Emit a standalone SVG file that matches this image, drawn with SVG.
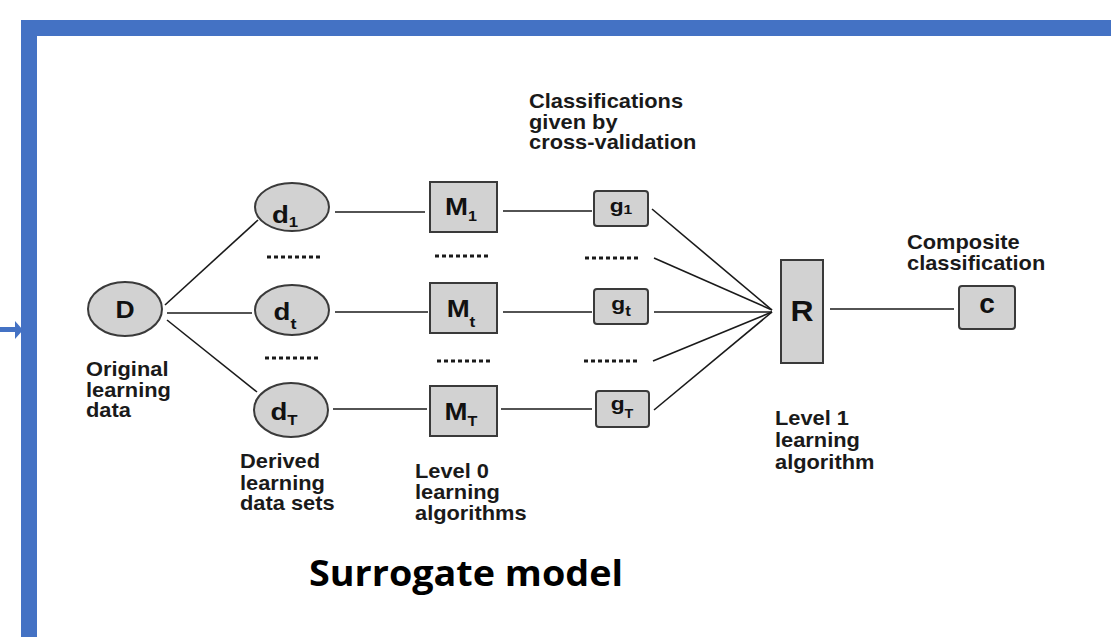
<svg xmlns="http://www.w3.org/2000/svg" width="1111" height="637" viewBox="0 0 1111 637">
<defs>
<style>
.frame{fill:#4472C4}
.node{fill:#d2d2d2;stroke:#3a3a3a;stroke-width:2}
.conn line{stroke:#1a1a1a;stroke-width:1.6}
.dots line{stroke:#1a1a1a;stroke-width:3;stroke-dasharray:4 3}
.lbl{font-family:"Liberation Sans",Arial,sans-serif;font-weight:bold;font-size:19.5px;fill:#1a1a1a}
.nl{font-family:"Liberation Sans",Arial,sans-serif;font-weight:bold;fill:#111;text-anchor:middle}
.title{font-family:"Open Sans","Noto Sans",sans-serif;font-weight:bold;font-size:36px;fill:#000}
</style>
</defs>
<rect width="1111" height="637" fill="#ffffff"/>
<path class="frame" d="M21,20 H1111 V36 H37 V637 H21 Z"/>
<g id="input-arrow">
<line x1="0" y1="329.5" x2="17" y2="329.5" stroke="#4472C4" stroke-width="5"/>
<polygon points="15,321 23,330 15,339" fill="#4472C4"/>
</g>
<g class="conn" id="connectors">
<line x1="165" y1="305" x2="258" y2="220"/>
<line x1="167" y1="313" x2="252" y2="313"/>
<line x1="167" y1="320" x2="257" y2="392"/>
<line x1="335" y1="212" x2="425" y2="212"/>
<line x1="335" y1="312" x2="428" y2="312"/>
<line x1="333" y1="409" x2="427" y2="409"/>
<line x1="503" y1="211" x2="592" y2="211"/>
<line x1="503" y1="312" x2="592" y2="312"/>
<line x1="501" y1="409" x2="592" y2="409"/>
<line x1="652" y1="209" x2="772" y2="310"/>
<line x1="654" y1="258" x2="772" y2="310"/>
<line x1="654" y1="312" x2="772" y2="312"/>
<line x1="653" y1="361" x2="772" y2="312"/>
<line x1="654" y1="410" x2="772" y2="312"/>
<line x1="830" y1="309" x2="954" y2="309"/>
</g>
<g class="dots" id="ellipsis">
<line x1="267" y1="257" x2="323" y2="257"/>
<line x1="265" y1="358" x2="321" y2="358"/>
<line x1="435" y1="256" x2="491" y2="256"/>
<line x1="437" y1="361" x2="493" y2="361"/>
<line x1="585" y1="258" x2="641" y2="258"/>
<line x1="584" y1="361" x2="640" y2="361"/>
</g>
<g id="node-D">
<ellipse class="node" cx="125" cy="309" rx="37" ry="27"/>
<text class="nl" transform="translate(125 318) scale(1.15 1)" font-size="23">D</text>
</g>
<g id="node-d1">
<ellipse class="node" cx="292" cy="207" rx="37" ry="24"/>
<text class="nl" transform="translate(285 223) scale(1.2 1)" font-size="23">d<tspan font-size="14" dy="4">1</tspan></text>
</g>
<g id="node-dt">
<ellipse class="node" cx="292" cy="310" rx="37" ry="25"/>
<text class="nl" transform="translate(285 320) scale(1.2 1)" font-size="23">d<tspan font-size="15" dy="9">t</tspan></text>
</g>
<g id="node-dT">
<ellipse class="node" cx="291" cy="410" rx="37" ry="27"/>
<text class="nl" transform="translate(284 420) scale(1.2 1)" font-size="23">d<tspan font-size="14" dy="5">T</tspan></text>
</g>
<g id="node-M1">
<rect class="node" x="430" y="182" width="67" height="50"/>
<text class="nl" transform="translate(461 215) scale(1.15 1)" font-size="24">M<tspan font-size="14" dy="6">1</tspan></text>
</g>
<g id="node-Mt">
<rect class="node" x="430" y="283" width="67" height="50"/>
<text class="nl" transform="translate(461 317) scale(1.15 1)" font-size="24">M<tspan font-size="15" dy="10">t</tspan></text>
</g>
<g id="node-MT">
<rect class="node" x="430" y="386" width="67" height="50"/>
<text class="nl" transform="translate(461 420) scale(1.15 1)" font-size="24">M<tspan font-size="14" dy="6">T</tspan></text>
</g>
<g id="node-g1">
<rect class="node" x="594" y="191" width="54" height="35" rx="3"/>
<text class="nl" transform="translate(621 212) scale(1.2 1)" font-size="19">g<tspan font-size="13" dy="2">1</tspan></text>
</g>
<g id="node-gt">
<rect class="node" x="594" y="289" width="54" height="35" rx="3"/>
<text class="nl" transform="translate(621 310) scale(1.2 1)" font-size="19">g<tspan font-size="14" dy="6">t</tspan></text>
</g>
<g id="node-gT">
<rect class="node" x="596" y="391" width="53" height="36" rx="3"/>
<text class="nl" transform="translate(622 410) scale(1.2 1)" font-size="19">g<tspan font-size="12" dy="8">T</tspan></text>
</g>
<g id="node-R">
<rect class="node" x="781" y="260" width="42" height="103"/>
<text class="nl" transform="translate(802 321) scale(1.1 1)" font-size="29">R</text>
</g>
<g id="node-c">
<rect class="node" x="959" y="286" width="56" height="43" rx="3"/>
<text class="nl" x="987" y="313" font-size="28">c</text>
</g>
<g id="labels">
<text class="lbl" transform="translate(529 108) scale(1.12 1)">Classifications</text>
<text class="lbl" transform="translate(529 129) scale(1.12 1)">given by</text>
<text class="lbl" transform="translate(529 149) scale(1.12 1)">cross-validation</text>
<text class="lbl" transform="translate(86 376) scale(1.12 1)">Original</text>
<text class="lbl" transform="translate(86 397) scale(1.12 1)">learning</text>
<text class="lbl" transform="translate(86 417) scale(1.12 1)">data</text>
<text class="lbl" transform="translate(240 468) scale(1.12 1)">Derived</text>
<text class="lbl" transform="translate(240 490) scale(1.12 1)">learning</text>
<text class="lbl" transform="translate(240 510) scale(1.12 1)">data sets</text>
<text class="lbl" transform="translate(415 478) scale(1.12 1)">Level 0</text>
<text class="lbl" transform="translate(415 499) scale(1.12 1)">learning</text>
<text class="lbl" transform="translate(415 520) scale(1.12 1)">algorithms</text>
<text class="lbl" transform="translate(775 425) scale(1.12 1)">Level 1</text>
<text class="lbl" transform="translate(775 447) scale(1.12 1)">learning</text>
<text class="lbl" transform="translate(775 469) scale(1.12 1)">algorithm</text>
<text class="lbl" transform="translate(907 249) scale(1.12 1)">Composite</text>
<text class="lbl" transform="translate(907 270) scale(1.12 1)">classification</text>
<text class="title" x="309" y="586" textLength="314" lengthAdjust="spacingAndGlyphs">Surrogate model</text>
</g>
</svg>
